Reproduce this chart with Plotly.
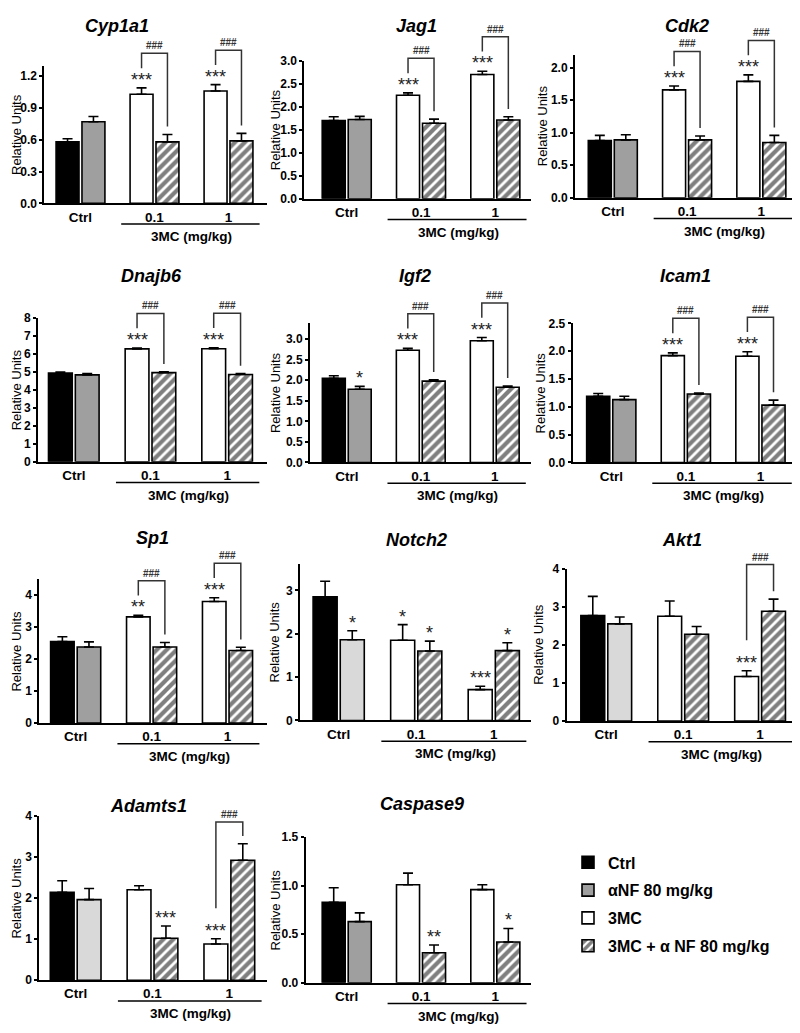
import plotly.graph_objects as go

# ---- data ----
GENES = ["Cyp1a1", "Jag1", "Cdk2", "Dnajb6", "Igf2", "Icam1",
         "Sp1", "Notch2", "Akt1", "Adamts1", "Caspase9"]
GROUPS = ["Ctrl", "0.1", "1"]
SERIES = ["Ctrl", "αNF 80 mg/kg", "3MC", "3MC + α NF 80 mg/kg"]

CTRL_MEAN = [0.58, 1.70, 0.88, 4.93, 2.05, 1.19, 2.55, 2.85, 2.77, 2.14, 0.83]
CTRL_SEM = [0.03, 0.08, 0.08, 0.05, 0.06, 0.05, 0.15, 0.36, 0.50, 0.28, 0.15]
ANF_MEAN = [0.77, 1.72, 0.89, 4.83, 1.78, 1.13, 2.38, 1.86, 2.55, 1.96, 0.63]
ANF_SEM = [0.05, 0.07, 0.08, 0.07, 0.07, 0.06, 0.16, 0.21, 0.18, 0.27, 0.09]
# 3MC at 0.1 and 1 mg/kg
MC_MEAN = [[1.03, 1.06], [2.25, 2.70], [1.66, 1.79], [6.27, 6.28], [2.73, 2.96], [1.92, 1.91],
           [3.32, 3.80], [1.85, 0.71], [2.75, 1.17], [2.20, 0.88], [1.01, 0.96]]
MC_SEM = [[0.06, 0.06], [0.05, 0.07], [0.06, 0.10], [0.05, 0.05], [0.05, 0.08], [0.05, 0.08],
          [0.05, 0.12], [0.36, 0.08], [0.40, 0.15], [0.10, 0.13], [0.12, 0.05]]
# 3MC + aNF at 0.1 and 1 mg/kg
MCANF_MEAN = [[0.58, 0.59], [1.64, 1.71], [0.89, 0.85], [4.95, 4.85], [1.98, 1.83], [1.23, 1.03],
              [2.38, 2.27], [1.60, 1.61], [2.28, 2.88], [1.02, 2.92], [0.31, 0.42]]
MCANF_SEM = [[0.07, 0.07], [0.09, 0.07], [0.06, 0.11], [0.05, 0.05], [0.03, 0.03], [0.02, 0.09],
             [0.14, 0.10], [0.23, 0.18], [0.20, 0.32], [0.30, 0.40], [0.08, 0.14]]

Y_MAX = [1.3, 3.0, 2.2, 8, 3.4, 2.5, 4.5, 3.6, 4, 4, 1.5]
Y_DTICK = [0.3, 0.5, 0.5, 1, 0.5, 0.5, 1, 1, 1, 1, 0.5]

# marks over bars: ctrl, aNF, 3MC 0.1, combo 0.1, 3MC 1, combo 1
STARS = [
    ["", "", "***", "", "***", ""],
    ["", "", "***", "", "***", ""],
    ["", "", "***", "", "***", ""],
    ["", "", "***", "", "***", ""],
    ["", "*", "***", "", "***", ""],
    ["", "", "***", "", "***", ""],
    ["", "", "**", "", "***", ""],
    ["", "*", "*", "*", "***", "*"],
    ["", "", "", "", "***", ""],
    ["", "", "", "***", "***", ""],
    ["", "", "", "**", "", "*"],
]
HASH_GROUPS = [[1, 2], [1, 2], [1, 2], [1, 2], [1, 2], [1, 2], [1, 2], [], [2], [2], []]

# ---- layout (page pixels) ----
PAGE_W, PAGE_H = 800, 1033
BODY = 8  # default body margin of the written page
W, H = PAGE_W - 2 * BODY, PAGE_H - 2 * BODY
FONT = "Arial, Liberation Sans, sans-serif"
BOX = [  # left, right, top, bottom of each axes box, in page pixels
    (44.3, 267, 59.3, 199), (304.3, 531, 54.3, 194.3), (575, 797, 48.3, 193.3),
    (34, 267, 315, 461), (310, 531, 320, 461.7), (572.7, 797, 320.7, 461.7),
    (39.3, 267, 580, 726), (300, 531, 565, 723.3), (566.7, 797, 569.3, 724),
    (39.3, 267, 820, 986.7), (305.7, 531, 841.7, 989.3),
]
XRANGE = [(-0.489, 2.52), (-0.571, 2.48), (-0.509, 2.48), (-0.519, 2.52), (-0.497, 2.49),
          (-0.517, 2.49), (-0.479, 2.52), (-0.499, 2.48), (-0.514, 2.48), (-0.473, 2.49),
          (-0.552, 2.48)]
TITLE_POS = [(117, 13), (416, 9), (687, 9), (151, 273), (415, 273), (685, 273),
             (152, 538), (417, 540), (682, 540), (148, 810), (422, 808)]
YTITLE_X = [8.7, 275.5, 542, 8.3, 275.5, 540.5, 11.7, 274, 539, 10, 275.5]
MIN_AXIS_X = 38  # leave room for the left-column y titles inside the page
LIGHT_GRAY = {"Notch2", "Akt1", "Adamts1"}
BRACKET_RISE = {"Adamts1": 22}
OFF = 0.175
BW = 0.31


def px_x(x):
    return min(1.0, max(0.0, (x - BODY) / W))


def px_y(y):
    return min(1.0, max(0.0, 1 - (y - BODY) / H))


fig = go.Figure()
shapes = []
annotations = []

for i, gene in enumerate(GENES):
    n = "" if i == 0 else str(i + 1)
    xa, ya = "x" + n, "y" + n
    l, r, t, b = BOX[i]
    # keep the axes inside the drawable page; trim the range to match
    x0r, x1r = XRANGE[i]
    scale = (x1r - x0r) / (r - l)
    l_new = max(l, MIN_AXIS_X)
    r_new = min(r, BODY + W)
    x0r, x1r = x0r + (l_new - l) * scale, x1r - (r - r_new) * scale
    l, r = l_new, r_new
    ph = b - t
    ymax = Y_MAX[i]
    anf_col = "#d9d9d9" if gene in LIGHT_GRAY else "#9f9f9f"

    series = [
        (SERIES[0], [0 - OFF], [CTRL_MEAN[i]], [CTRL_SEM[i]], "black", None),
        (SERIES[1], [0 + OFF], [ANF_MEAN[i]], [ANF_SEM[i]], anf_col, None),
        (SERIES[2], [1 - OFF, 2 - OFF], MC_MEAN[i], MC_SEM[i], "white", None),
        (SERIES[3], [1 + OFF, 2 + OFF], MCANF_MEAN[i], MCANF_SEM[i], "white",
         dict(shape="/", fgcolor="black", size=7, solidity=0.6, fillmode="overlay")),
    ]
    for name, xs, ys, es, col, pat in series:
        marker = dict(color=col, line=dict(color="black", width=1.6))
        if pat:
            marker["pattern"] = pat
        fig.add_trace(go.Bar(
            x=xs, y=ys, width=BW, name=name, legendgroup=name, showlegend=(i == 0),
            marker=marker, xaxis=xa, yaxis=ya,
            error_y=dict(type="data", array=es, arrayminus=[0] * len(es), symmetric=False,
                         color="black", thickness=1.6, width=5),
        ))

    bar_x = [0 - OFF, 0 + OFF, 1 - OFF, 1 + OFF, 2 - OFF, 2 + OFF]
    tops = [CTRL_MEAN[i] + CTRL_SEM[i], ANF_MEAN[i] + ANF_SEM[i],
            MC_MEAN[i][0] + MC_SEM[i][0], MCANF_MEAN[i][0] + MCANF_SEM[i][0],
            MC_MEAN[i][1] + MC_SEM[i][1], MCANF_MEAN[i][1] + MCANF_SEM[i][1]]

    for k, s in enumerate(STARS[i]):
        if s:
            annotations.append(dict(x=bar_x[k], y=tops[k], xref=xa, yref=ya, text=s,
                                    showarrow=False, yanchor="bottom", yshift=-4,
                                    font=dict(family=FONT, size=18, color="#222")))

    for g in HASH_GROUPS[i]:
        tw, th = tops[2 * g], tops[2 * g + 1]
        rise = BRACKET_RISE.get(gene, 35)
        y_top = max(tw, th) / ymax + rise / ph
        y_left = tw / ymax + (20 if tw >= th else 31) / ph
        y_right = th / ymax + 8 / ph
        x1, x2 = g - OFF, g + OFF
        shapes.append(dict(type="path", xref=xa, yref=ya + " domain",
                           path=f"M{x1},{y_left} L{x1},{y_top} L{x2},{y_top} L{x2},{y_right}",
                           line=dict(color="#333", width=1.5)))
        annotations.append(dict(x=g, y=y_top, xref=xa, yref=ya + " domain", text="###",
                                showarrow=False, yanchor="bottom", yshift=0,
                                font=dict(family=FONT, size=10, weight="bold", color="#333")))

    # dose bracket under the 3MC groups
    shapes.append(dict(type="line", xref=xa, yref=ya + " domain", x0=0.55, x1=2.42,
                       y0=-21 / ph, y1=-21 / ph, line=dict(color="black", width=1.5)))
    annotations.append(dict(x=1.5, y=-34 / ph, xref=xa, yref=ya + " domain",
                            text="3MC (mg/kg)", showarrow=False, yanchor="middle",
                            font=dict(family=FONT, size=13.5, weight="bold", color="black")))

    # gene title; titles near the page top are pinned to the top edge
    tx, ty = TITLE_POS[i]
    pin_top = ty - 12 < BODY
    annotations.append(dict(x=px_x(tx), y=1 if pin_top else px_y(ty), xref="paper",
                            yref="paper", text=gene, showarrow=False, xanchor="center",
                            yanchor="top" if pin_top else "middle", borderpad=0,
                            font=dict(family=FONT, size=18, weight="bold", style="italic",
                                      color="black")))
    # y axis title, at a fixed distance from the axis as in the source figure;
    # the left column is pinned to the page edge so it is not cut
    yt = YTITLE_X[i]
    at_edge = yt - 8 < BODY
    annotations.append(dict(x=0 if at_edge else px_x(yt), y=0.5, xref="paper",
                            yref=ya + " domain", text="Relative Units", textangle=-90,
                            showarrow=False, xanchor="left" if at_edge else "center",
                            yanchor="middle", borderpad=0,
                            font=dict(family=FONT, size=13, color="black")))

    fig.layout["xaxis" + n] = dict(
        domain=[px_x(l), px_x(r)], anchor=ya, range=[x0r, x1r],
        tickvals=[0, 1, 2], ticktext=GROUPS, ticks="", showgrid=False, zeroline=False,
        showline=True, linecolor="black", linewidth=2,
        tickfont=dict(family=FONT, size=13.5, weight="bold", color="black"),
    )
    fig.layout["yaxis" + n] = dict(
        domain=[px_y(b), px_y(t)], anchor=xa, range=[0, ymax], dtick=Y_DTICK[i],
        tick0=0, tickformat=".1f" if Y_DTICK[i] < 1 else "d",
        ticks="outside", ticklen=3, tickwidth=2, tickcolor="black",
        showgrid=False, zeroline=False, showline=True, linecolor="black", linewidth=2,
        tickfont=dict(family=FONT, size=12, weight="bold", color="black"),
    )

fig.update_layout(
    width=W, height=H,
    margin=dict(l=0, r=0, t=0, b=0),
    paper_bgcolor="white", plot_bgcolor="white",
    barmode="overlay",
    shapes=shapes, annotations=annotations,
    legend=dict(x=px_x(568), y=px_y(850), xanchor="left", yanchor="top",
                font=dict(family=FONT, size=16, weight="bold", color="black"),
                tracegroupgap=4, bgcolor="rgba(0,0,0,0)"),
)

fig.write_html("out.html")
